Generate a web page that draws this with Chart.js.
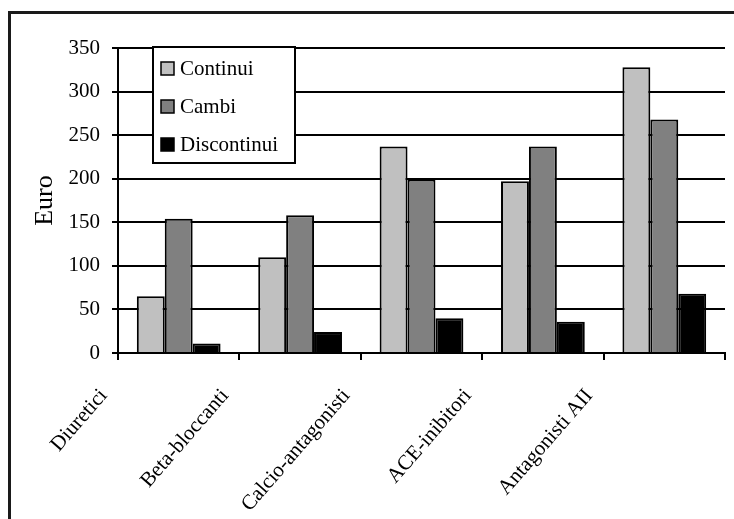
<!DOCTYPE html>
<html>
<head>
<meta charset="utf-8">
<script src="https://cdn.jsdelivr.net/npm/chart.js@4/dist/chart.umd.min.js"></script>
<style>
html,body{margin:0;padding:0;background:#fff;}
canvas{display:block;}
</style>
</head>
<body>
<canvas id="c" width="734" height="519"></canvas>
<script>
const categories = ['Diuretici', 'Beta-bloccanti', 'Calcio-antagonisti', 'ACE-inibitori', 'Antagonisti AII'];
const continui = [65, 110, 237, 197, 328];
const cambi = [154, 158, 199, 237, 268];
const discontinui = [11, 24, 40, 36, 68];
const seriesNames = ['Continui', 'Cambi', 'Discontinui'];
const yTitle = 'Euro';

const FONT = "'Liberation Serif', 'Times New Roman', serif";

const framePlugin = {
  id: 'frame',
  beforeDraw(chart) {
    const ctx = chart.ctx;
    ctx.save();
    ctx.fillStyle = '#fff';
    ctx.fillRect(0, 0, chart.width, chart.height);
    ctx.strokeStyle = '#1a1a1a';
    ctx.lineWidth = 3;
    ctx.strokeRect(9.5, 12.5, 900, 700);
    ctx.restore();
  }
};

const boxLegend = {
  id: 'boxLegend',
  afterDraw(chart, args, opts) {
    const ctx = chart.ctx;
    ctx.save();
    ctx.fillStyle = '#fff';
    ctx.fillRect(opts.x, opts.y, opts.w, opts.h);
    ctx.strokeStyle = '#000';
    ctx.lineWidth = 2;
    ctx.strokeRect(opts.x, opts.y, opts.w, opts.h);
    ctx.font = '21px ' + FONT;
    ctx.textBaseline = 'middle';
    ctx.textAlign = 'left';
    chart.data.datasets.forEach((ds, i) => {
      const cy = opts.y + opts.firstRow + i * opts.rowGap;
      ctx.fillStyle = ds.backgroundColor;
      ctx.fillRect(opts.x + 8, cy - 7, 13, 13);
      ctx.lineWidth = 1.5;
      ctx.strokeStyle = '#000';
      ctx.strokeRect(opts.x + 8, cy - 7, 13, 13);
      ctx.fillStyle = '#000';
      ctx.fillText(ds.label, opts.x + 27, cy);
    });
    ctx.restore();
  }
};

new Chart(document.getElementById('c'), {
  type: 'bar',
  data: {
    labels: categories,
    datasets: [
      { label: seriesNames[0], data: continui, backgroundColor: '#c0c0c0' },
      { label: seriesNames[1], data: cambi, backgroundColor: '#808080' },
      { label: seriesNames[2], data: discontinui, backgroundColor: '#000000' }
    ]
  },
  options: {
    responsive: false,
    animation: false,
    layout: { padding: { left: 0, top: 48, right: 9, bottom: 0 } },
    datasets: {
      bar: {
        categoryPercentage: 0.69,
        barPercentage: 1.0,
        borderWidth: 2,
        borderColor: '#000'
      }
    },
    plugins: {
      legend: { display: false },
      tooltip: { enabled: false },
      boxLegend: { x: 153, y: 47, w: 142, h: 116, firstRow: 22, rowGap: 38 }
    },
    scales: {
      x: {
        afterFit(scale) { scale.height = 166; },
        grid: { display: true, drawOnChartArea: false, drawTicks: true, tickLength: 7, color: '#000', lineWidth: 2, offset: true },
        border: { display: true, color: '#000', width: 2 },
        ticks: {
          color: '#000',
          font: { family: FONT, size: 21 },
          minRotation: 49,
          maxRotation: 49,
          autoSkip: false,
          labelOffset: -75,
          padding: 24
        }
      },
      y: {
        min: 0,
        max: 350,
        afterFit(scale) { scale.width = 118; },
        grid: { color: '#000', lineWidth: 2, tickLength: 6, drawTicks: true },
        border: { display: true, color: '#000', width: 2 },
        ticks: {
          stepSize: 50,
          color: '#000',
          font: { family: FONT, size: 21 },
          padding: 12
        },
        title: {
          display: true,
          text: yTitle,
          color: '#000',
          font: { family: FONT, size: 26 },
          padding: { top: 30, bottom: 0 }
        }
      }
    }
  },
  plugins: [framePlugin, boxLegend]
});
</script>
</body>
</html>
